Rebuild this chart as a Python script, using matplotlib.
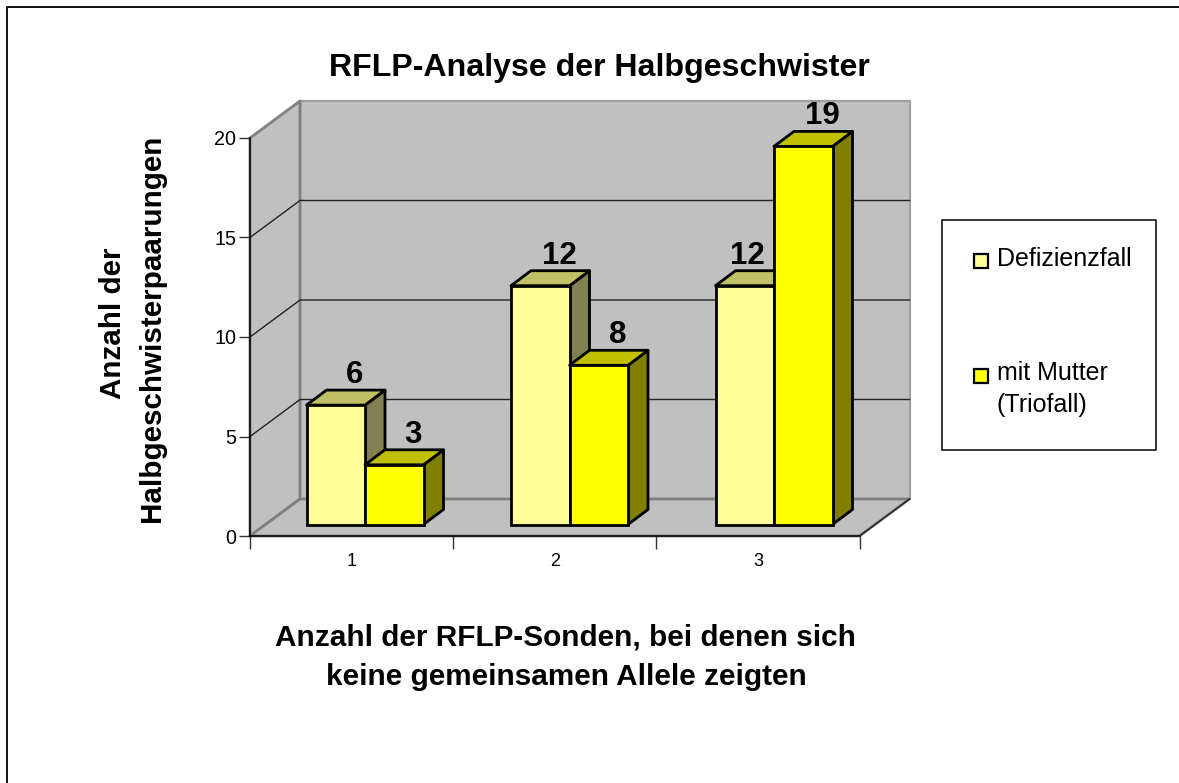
import matplotlib
matplotlib.use("Agg")
import matplotlib.pyplot as plt
from matplotlib.patches import Polygon, Rectangle
from matplotlib.lines import Line2D

categories = [1, 2, 3]
y_ticks = [0, 5, 10, 15, 20]
series_names = ["Defizienzfall", "mit Mutter\n(Triofall)"]
defizienzfall = [6, 12, 12]
mit_mutter = [3, 8, 19]

W, H = 1179, 783
plt.rcParams['font.family'] = ['Liberation Sans', 'DejaVu Sans']
fig = plt.figure(figsize=(W / 100, H / 100), dpi=100, facecolor='white')

def fx(p): return p / W
def fy(p): return 1 - p / H

# Frame: only the left and top edges fall inside the picture
fig.add_artist(Line2D([fx(7), fx(7), 1], [0, fy(6.5), fy(6.5)],
                      color='#111111', lw=1.4, transform=fig.transFigure))

L, R, T, B = 250, 859.5, 138, 536
ax = fig.add_axes([fx(L), fy(B), (R - L) / W, (B - T) / H])
ax.set_xlim(0.5, 3.5)
ax.set_ylim(0, 20)
ax.patch.set_visible(False)
for s in ax.spines.values():
    s.set_visible(False)

PX = (R - L) / 3
PY = (B - T) / 20
def dx(p): return p / PX
def dy(p): return p / PY

WX, WY = dx(50), dy(37)
x0, x1 = 0.5, 3.5
wall = '#C0C0C0'
edge = '#808080'

def poly(pts, fc, ec, lw, z=1):
    ax.add_patch(Polygon(pts, closed=True, facecolor=fc, edgecolor=ec, lw=lw,
                         joinstyle='round', clip_on=False, zorder=z))

poly([(x0 + WX, WY), (x1 + WX, WY), (x1 + WX, 20 + WY), (x0 + WX, 20 + WY)], wall, '#A0A0A0', 1.6)
poly([(x0, 0), (x0 + WX, WY), (x0 + WX, 20 + WY), (x0, 20)], wall, edge, 2.0)
poly([(x0, 0), (x1, 0), (x1 + WX, WY), (x0 + WX, WY)], wall, edge, 2.0)

for v in y_ticks[1:-1]:
    ax.plot([x0, x0 + WX, x1 + WX], [v, v + WY, v + WY], color='#222222', lw=1.0,
            clip_on=False, zorder=2, solid_joinstyle='miter')

ax.plot([x0, x0], [0, 20], color='black', lw=1.1, clip_on=False, zorder=3)
ax.plot([x0, x1], [0, 0], color='black', lw=1.1, clip_on=False, zorder=3)
ax.plot([x1, x1 + WX], [0, WY], color='#222222', lw=1.0, clip_on=False, zorder=3)

ax.set_xticks([0.5, 1.5, 2.5, 3.5], labels=[])
ax.set_yticks(y_ticks)
ax.tick_params(axis='y', length=8, width=1.0, color='#333333', labelsize=14.2, pad=2, labelcolor='black')
ax.tick_params(axis='x', length=9, width=1.0, color='#333333')
for c in categories:
    ax.text(c, -1.3, str(c), ha='center', va='center', fontsize=13, color='black', clip_on=False)

BW = dx(58.5)
SX, SY = dx(20), dy(15)
BASE = dy(11.5)
STEP = dx(204.5)
FIRST = (365 - L) / PX + 0.5

def bar3d(xl, v, front, top, side, z):
    yb, yt = BASE, BASE + v
    xr = xl + BW
    poly([(xr, yb), (xr + SX, yb + SY), (xr + SX, yt + SY), (xr, yt)], side, 'black', 2.0, z)
    poly([(xl, yt), (xr, yt), (xr + SX, yt + SY), (xl + SX, yt + SY)], top, 'black', 2.0, z)
    ax.bar(xl, v, width=BW, bottom=yb, align='edge', color=front, edgecolor='black',
           linewidth=2.0, clip_on=False, zorder=z)

def value_label(xl, v, shift=0):
    ax.text(xl + dx(48 + shift), BASE + v + dy(30), str(v), ha='center', va='center',
            fontsize=22.5, fontweight='bold', color='black', zorder=6, clip_on=False)

for i, c in enumerate(categories):
    mid = FIRST + i * STEP
    bar3d(mid - BW, defizienzfall[i], '#FFFF99', '#C0C066', '#808050', 4)
    bar3d(mid, mit_mutter[i], '#FFFF00', '#C0C000', '#808000', 5)
    value_label(mid - BW, defizienzfall[i], -16 if i == 2 else 0)
    value_label(mid, mit_mutter[i])

fig.text(fx(599), fy(68), "RFLP-Analyse der Halbgeschwister", ha='center', va='center',
         fontsize=23.1, fontweight='bold')
fig.text(fx(113), fy(323), "Anzahl der", rotation=90, ha='center', va='center', fontsize=21.3, fontweight='bold')
fig.text(fx(152), fy(328), "Halbgeschwisterpaarungen", rotation=90, ha='center', va='center', fontsize=21.3, fontweight='bold')
fig.text(fx(565), fy(638), "Anzahl der RFLP-Sonden, bei denen sich", ha='center', va='center', fontsize=21.4, fontweight='bold')
fig.text(fx(566), fy(677), "keine gemeinsamen Allele zeigten", ha='center', va='center', fontsize=21.4, fontweight='bold')

fig.add_artist(Rectangle((fx(941.5), fy(450)), (1156 - 941.5) / W, (450 - 220.5) / H, transform=fig.transFigure,
                         facecolor='white', edgecolor='black', lw=1.1))
for (ypx, col, name, ty) in [(261, '#FFFF99', series_names[0], 247), (376, '#FFFF00', series_names[1], 361)]:
    fig.add_artist(Rectangle((fx(974), fy(ypx + 7)), 14 / W, 14 / H, transform=fig.transFigure,
                             facecolor=col, edgecolor='black', lw=1.6))
    fig.text(fx(997), fy(ty), name, ha='left', va='top', fontsize=18, linespacing=1.42)

fig.savefig('out.png', dpi=100, facecolor='white')
